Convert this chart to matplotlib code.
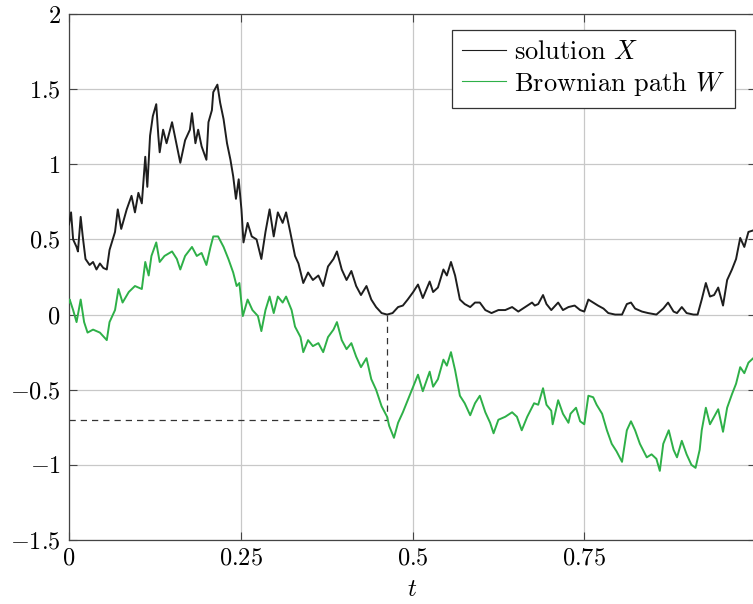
import matplotlib
matplotlib.use('Agg')
import matplotlib.pyplot as plt
from matplotlib.lines import Line2D

plt.rcParams['font.family'] = ['cmr10', 'DejaVu Serif']
plt.rcParams['mathtext.fontset'] = 'cm'
plt.rcParams['axes.formatter.use_mathtext'] = True

# solution X
t_x = [0.0, 0.003, 0.006, 0.011, 0.013, 0.017, 0.020, 0.024, 0.030, 0.035, 0.040, 0.045, 0.050, 0.055,
       0.059, 0.067, 0.071, 0.076, 0.084, 0.091, 0.096, 0.101, 0.106, 0.111, 0.114, 0.118, 0.122, 0.127,
       0.130, 0.132, 0.137, 0.142, 0.150, 0.154, 0.162, 0.169, 0.176, 0.179, 0.184, 0.188, 0.193, 0.200,
       0.203, 0.208, 0.210, 0.216, 0.220, 0.225, 0.230, 0.235, 0.239, 0.243, 0.247, 0.251, 0.254, 0.260,
       0.266, 0.273, 0.280, 0.286, 0.292, 0.298, 0.304, 0.311, 0.316, 0.322, 0.329, 0.334, 0.341, 0.348,
       0.355, 0.363, 0.370, 0.377, 0.385, 0.390, 0.397, 0.404, 0.411, 0.418, 0.425, 0.433, 0.440, 0.447,
       0.455, 0.463, 0.471, 0.479, 0.486, 0.493, 0.501, 0.508, 0.515, 0.525, 0.530, 0.537, 0.545, 0.550,
       0.556, 0.562, 0.569, 0.576, 0.584, 0.591, 0.598, 0.606, 0.615, 0.625, 0.635, 0.645, 0.654, 0.664,
       0.674, 0.678, 0.683, 0.690, 0.695, 0.702, 0.712, 0.719, 0.727, 0.736, 0.744, 0.750, 0.756, 0.763,
       0.770, 0.778, 0.785, 0.795, 0.805, 0.812, 0.818, 0.824, 0.834, 0.843, 0.855, 0.865, 0.872, 0.880,
       0.885, 0.892, 0.899, 0.909, 0.915, 0.921, 0.927, 0.933, 0.939, 0.945, 0.952, 0.958, 0.965, 0.971,
       0.977, 0.983, 0.989, 0.996, 1.0]
x_vals = [0.60, 0.68, 0.50, 0.45, 0.42, 0.65, 0.52, 0.37, 0.33, 0.35, 0.30, 0.34, 0.31, 0.30,
          0.43, 0.55, 0.70, 0.57, 0.70, 0.79, 0.68, 0.81, 0.74, 1.05, 0.85, 1.19, 1.32, 1.40,
          1.19, 1.08, 1.23, 1.14, 1.28, 1.19, 1.01, 1.16, 1.23, 1.34, 1.14, 1.23, 1.12, 1.03,
          1.28, 1.36, 1.48, 1.53, 1.41, 1.30, 1.14, 1.03, 0.92, 0.77, 0.90, 0.70, 0.48, 0.61,
          0.52, 0.50, 0.37, 0.55, 0.70, 0.52, 0.68, 0.61, 0.68, 0.55, 0.39, 0.34, 0.21, 0.28,
          0.23, 0.26, 0.19, 0.32, 0.37, 0.42, 0.30, 0.23, 0.29, 0.19, 0.13, 0.19, 0.10, 0.05,
          0.01, 0.0, 0.01, 0.05, 0.06, 0.10, 0.15, 0.20, 0.11, 0.22, 0.15, 0.18, 0.30, 0.26,
          0.35, 0.26, 0.10, 0.07, 0.05, 0.08, 0.08, 0.03, 0.01, 0.03, 0.03, 0.05, 0.02, 0.05,
          0.08, 0.06, 0.07, 0.13, 0.07, 0.03, 0.08, 0.03, 0.05, 0.06, 0.03, 0.02, 0.10, 0.08,
          0.06, 0.04, 0.01, 0.0, 0.0, 0.07, 0.08, 0.04, 0.02, 0.01, 0.0, 0.04, 0.08, 0.02,
          0.01, 0.05, 0.01, 0.0, 0.0, 0.10, 0.21, 0.12, 0.13, 0.18, 0.06, 0.23, 0.30, 0.37,
          0.51, 0.45, 0.55, 0.56, 0.58]

# Brownian path W
t_w = [0.0, 0.001, 0.006, 0.011, 0.017, 0.022, 0.027, 0.035, 0.045, 0.055, 0.059, 0.067, 0.072, 0.078,
       0.087, 0.096, 0.106, 0.111, 0.116, 0.120, 0.127, 0.132, 0.139, 0.150, 0.157, 0.162, 0.169, 0.179,
       0.186, 0.193, 0.200, 0.206, 0.210, 0.217, 0.225, 0.232, 0.239, 0.244, 0.248, 0.253, 0.260, 0.267,
       0.275, 0.280, 0.286, 0.292, 0.298, 0.304, 0.311, 0.316, 0.324, 0.329, 0.337, 0.341, 0.348, 0.355,
       0.363, 0.370, 0.377, 0.385, 0.390, 0.397, 0.404, 0.411, 0.418, 0.425, 0.433, 0.440, 0.447, 0.455,
       0.463, 0.466, 0.473, 0.479, 0.486, 0.493, 0.501, 0.508, 0.515, 0.525, 0.530, 0.537, 0.545, 0.550,
       0.556, 0.562, 0.569, 0.576, 0.584, 0.591, 0.598, 0.606, 0.613, 0.618, 0.625, 0.635, 0.645, 0.652,
       0.659, 0.667, 0.677, 0.683, 0.690, 0.695, 0.702, 0.704, 0.712, 0.719, 0.727, 0.730, 0.738, 0.744,
       0.750, 0.756, 0.763, 0.768, 0.776, 0.783, 0.790, 0.797, 0.805, 0.812, 0.818, 0.824, 0.831, 0.841,
       0.848, 0.855, 0.860, 0.865, 0.873, 0.880, 0.885, 0.892, 0.899, 0.906, 0.912, 0.918, 0.921, 0.927,
       0.933, 0.939, 0.945, 0.952, 0.958, 0.965, 0.971, 0.977, 0.983, 0.989, 0.996, 1.0]
w_vals = [0.08, 0.10, 0.03, -0.05, 0.10, -0.05, -0.12, -0.10, -0.12, -0.17, -0.05, 0.03, 0.17, 0.08,
          0.15, 0.19, 0.17, 0.35, 0.26, 0.39, 0.48, 0.35, 0.39, 0.42, 0.37, 0.30, 0.39, 0.45,
          0.39, 0.41, 0.33, 0.45, 0.52, 0.52, 0.45, 0.37, 0.28, 0.19, 0.21, -0.01, 0.10, 0.03,
          -0.01, -0.11, 0.03, 0.12, 0.01, 0.12, 0.08, 0.12, 0.03, -0.08, -0.15, -0.25, -0.17, -0.21,
          -0.19, -0.25, -0.15, -0.10, -0.05, -0.17, -0.23, -0.19, -0.28, -0.35, -0.29, -0.43, -0.50, -0.61,
          -0.68, -0.74, -0.82, -0.72, -0.65, -0.57, -0.48, -0.40, -0.51, -0.38, -0.48, -0.43, -0.30, -0.34,
          -0.25, -0.37, -0.54, -0.59, -0.67, -0.59, -0.54, -0.65, -0.72, -0.79, -0.70, -0.68, -0.65, -0.68,
          -0.77, -0.68, -0.59, -0.60, -0.49, -0.60, -0.64, -0.73, -0.57, -0.66, -0.72, -0.66, -0.62, -0.71,
          -0.73, -0.54, -0.55, -0.60, -0.66, -0.77, -0.86, -0.91, -0.98, -0.77, -0.71, -0.77, -0.86, -0.95,
          -0.93, -0.96, -1.04, -0.86, -0.77, -0.90, -0.95, -0.84, -0.93, -1.00, -1.02, -0.90, -0.77, -0.62,
          -0.73, -0.68, -0.63, -0.78, -0.62, -0.53, -0.46, -0.35, -0.39, -0.32, -0.29, -0.30]

# first time X reaches 0 and the value of W there
t_hit = 0.463
w_hit = -0.703

x_ticks = [0, 0.25, 0.5, 0.75, 1]
x_labels = ['$0$', '$0.25$', '$0.5$', '$0.75$', '$1$']
y_ticks = [-1.5, -1, -0.5, 0, 0.5, 1, 1.5, 2]
y_labels = ['$-1.5$', '$-1$', '$-0.5$', '$0$', '$0.5$', '$1$', '$1.5$', '$2$']

fig = plt.figure(figsize=(7.53, 6.04), dpi=100)
ax = fig.add_axes([69 / 753, 64 / 604, 687 / 753, 526 / 604])

green = '#2eb048'
ax.plot(t_x, x_vals, color='#1e1e1e', linewidth=1.4, zorder=3)
ax.plot(t_w, w_vals, color=green, linewidth=1.4, zorder=3)

ax.plot([t_hit, t_hit], [0, w_hit], color='#333333', linewidth=0.9, dashes=(5, 4), zorder=2)
ax.plot([0, t_hit], [w_hit, w_hit], color='#333333', linewidth=0.9, dashes=(5, 4), zorder=2)

ax.set_xlim(0, 1)
ax.set_ylim(-1.5, 2)
ax.set_xticks(x_ticks)
ax.set_xticklabels(x_labels)
ax.set_yticks(y_ticks)
ax.set_yticklabels(y_labels)
ax.tick_params(axis='both', which='major', direction='in', length=6, width=0.8,
               labelsize=17.5, color='#444444', top=True, right=True)
ax.tick_params(axis='x', pad=5)
ax.tick_params(axis='y', pad=6)
ax.grid(True, color='#c8c8c8', linewidth=0.9)
ax.set_axisbelow(True)
for s in ax.spines.values():
    s.set_color('#444444')
    s.set_linewidth(0.9)

ax.set_xlabel('$t$', fontsize=18, labelpad=7)

handles = [Line2D([], [], color='#1e1e1e', linewidth=0.8),
           Line2D([], [], color=green, linewidth=0.8)]
leg = ax.legend(handles, ['solution $X$', 'Brownian path $W$'], loc='upper right',
                bbox_to_anchor=(0.9694, 0.9696), borderaxespad=0, fontsize=19,
                fancybox=False, framealpha=1, edgecolor='#333333',
                handlelength=1.65, handletextpad=0.3, borderpad=0.38, labelspacing=0.22)
leg.get_frame().set_linewidth(0.9)

fig.savefig('out.png', dpi=100)
